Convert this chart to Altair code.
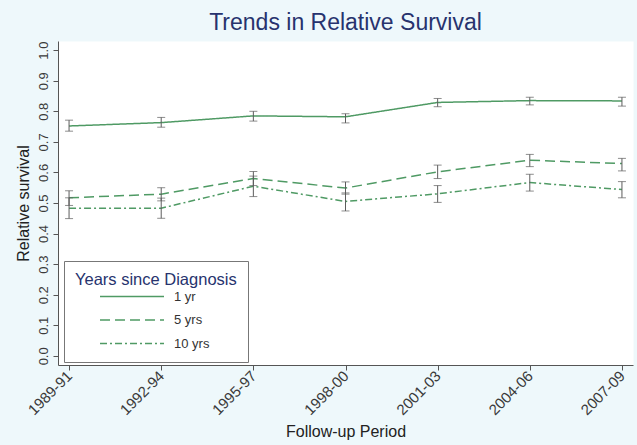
import altair as alt
import pandas as pd

# Follow-up periods and survival intervals
periods = ["1989-91", "1992-94", "1995-97", "1998-00", "2001-03", "2004-06", "2007-09"]
groups = ["1 yr", "5 yrs", "10 yrs"]

# Relative survival estimates with 95% confidence limits
rs_1yr = [0.752, 0.763, 0.785, 0.782, 0.829, 0.835, 0.834]
lo_1yr = [0.735, 0.748, 0.768, 0.762, 0.815, 0.821, 0.817]
hi_1yr = [0.771, 0.780, 0.800, 0.792, 0.842, 0.846, 0.846]

rs_5yr = [0.517, 0.529, 0.580, 0.549, 0.602, 0.640, 0.629]
lo_5yr = [0.492, 0.507, 0.557, 0.529, 0.580, 0.619, 0.605]
hi_5yr = [0.540, 0.550, 0.603, 0.569, 0.624, 0.659, 0.646]

rs_10yr = [0.483, 0.483, 0.555, 0.505, 0.530, 0.567, 0.544]
lo_10yr = [0.449, 0.450, 0.521, 0.474, 0.502, 0.539, 0.517]
hi_10yr = [0.517, 0.516, 0.588, 0.533, 0.557, 0.594, 0.570]

y_ticks = [0.0, 0.1, 0.2, 0.3, 0.4, 0.5, 0.6, 0.7, 0.8, 0.9, 1.0]

rows = []
for g, est, lo, hi in [
    ("1 yr", rs_1yr, lo_1yr, hi_1yr),
    ("5 yrs", rs_5yr, lo_5yr, hi_5yr),
    ("10 yrs", rs_10yr, lo_10yr, hi_10yr),
]:
    for p, e, l, h in zip(periods, est, lo, hi):
        rows.append({"period": p, "group": g, "rs": e, "lo": l, "hi": h})
df = pd.DataFrame(rows)

FONT = "Liberation Sans"
GREEN = "#4f9a64"
BAR = "#5c5c5c"
NAVY = "#27336e"
AXIS = "#555555"

x_scale = alt.Scale(type="point", padding=0.12)
y_scale = alt.Scale(domain=[-0.03, 1.03], nice=False, zero=False)

x_axis = alt.Axis(
    title="Follow-up Period",
    labelAngle=315,
    labelAlign="right",
    labelBaseline="middle",
    labelPadding=3,
    labelFontSize=15,
    titleFontSize=16,
    titlePadding=6,
    tickSize=5,
)
y_axis = alt.Axis(
    title="Relative survival",
    values=y_ticks,
    format=".1f",
    labelAngle=270,
    labelAlign="center",
    labelBaseline="bottom",
    labelPadding=3,
    labelFontSize=13,
    titleFontSize=16,
    titlePadding=6,
    tickSize=5,
)

X = alt.X("period:O", sort=periods, scale=x_scale, axis=x_axis)

base = alt.Chart(df)

lines = base.mark_line(color=GREEN, strokeWidth=1.5).encode(
    x=X,
    y=alt.Y("rs:Q", scale=y_scale, axis=y_axis),
    strokeDash=alt.StrokeDash(
        "group:N",
        sort=groups,
        scale=alt.Scale(domain=groups, range=[[1, 0], [10, 5], [7, 3, 2, 3]]),
        legend=alt.Legend(
            title="Years since Diagnosis",
            orient="none",
            legendX=6,
            legendY=220,
            fillColor="white",
            strokeColor="#777777",
            padding=11,
            symbolType="stroke",
            symbolSize=4096,
            symbolStrokeWidth=1.5,
            symbolStrokeColor=GREEN,
            symbolOffset=24,
            clipHeight=14,
            rowPadding=9.5,
            labelFontSize=13,
            labelFont=FONT,
            labelColor="#333333",
            labelOffset=9,
            titleFontSize=16.5,
            titleFont=FONT,
            titleColor=NAVY,
            titleFontWeight="normal",
            titlePadding=1,
        ),
    ),
)

whiskers = base.mark_rule(color=BAR, strokeWidth=1).encode(
    x=X,
    y=alt.Y("lo:Q", scale=y_scale, axis=y_axis),
    y2="hi:Q",
)
caps_lo = base.mark_tick(color=BAR, thickness=1, size=8).encode(
    x=X, y=alt.Y("lo:Q", scale=y_scale, axis=y_axis)
)
caps_hi = base.mark_tick(color=BAR, thickness=1, size=8).encode(
    x=X, y=alt.Y("hi:Q", scale=y_scale, axis=y_axis)
)

chart = (
    alt.layer(lines, whiskers, caps_lo, caps_hi)
    .properties(
        width=575,
        height=324,
        autosize=alt.AutoSizeParams(type="none"),
        padding={"left": 58, "top": 41, "right": 4, "bottom": 80},
        title=alt.TitleParams(
            "Trends in Relative Survival",
            fontSize=23,
            font=FONT,
            color=NAVY,
            fontWeight="normal",
            anchor="middle",
            offset=6,
        ),
    )
    .configure(background="#eef8fb", font=FONT)
    .configure_view(fill="white", stroke="transparent")
    .configure_axis(
        domainColor=AXIS,
        tickColor=AXIS,
        labelColor="#3a3a3a",
        titleColor="#222222",
        labelFont=FONT,
        titleFont=FONT,
        titleFontWeight="normal",
        grid=False,
    )
)

chart.save("out.html", embed_options={"renderer": "svg", "actions": False})
